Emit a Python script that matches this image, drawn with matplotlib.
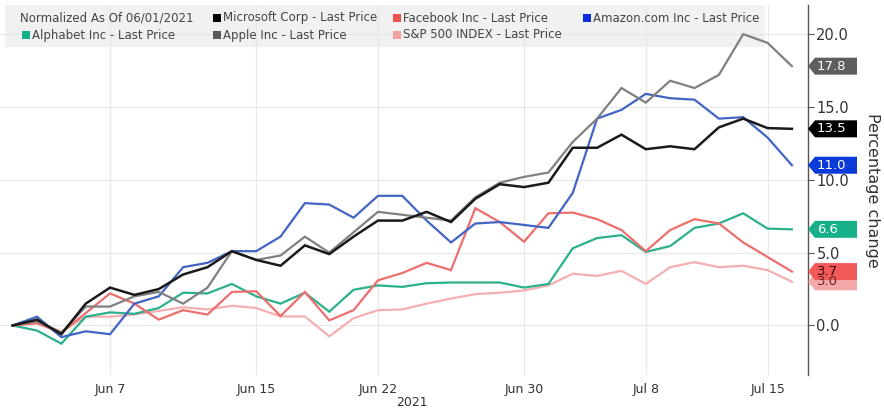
import matplotlib
matplotlib.use("Agg")
import matplotlib.pyplot as plt
from matplotlib.patches import Rectangle, Polygon

# ---- data ----
dates = ["2021-06-01", "2021-06-02", "2021-06-03", "2021-06-04", "2021-06-07", "2021-06-08",
         "2021-06-09", "2021-06-10", "2021-06-11", "2021-06-14", "2021-06-15", "2021-06-16",
         "2021-06-17", "2021-06-18", "2021-06-21", "2021-06-22", "2021-06-23", "2021-06-24",
         "2021-06-25", "2021-06-28", "2021-06-29", "2021-06-30", "2021-07-01", "2021-07-02",
         "2021-07-06", "2021-07-07", "2021-07-08", "2021-07-09", "2021-07-12", "2021-07-13",
         "2021-07-14", "2021-07-15", "2021-07-16"]

msft = [0, 0.4, -0.6, 1.5, 2.6, 2.1, 2.5, 3.5, 4.0, 5.1, 4.5, 4.1, 5.5, 4.9, 6.1, 7.2, 7.2,
        7.8, 7.1, 8.7, 9.7, 9.5, 9.8, 12.2, 12.2, 13.1, 12.1, 12.3, 12.1, 13.6, 14.2, 13.55, 13.5]
fb = [0, 0.15, -0.5, 0.85, 2.2, 1.5, 0.4, 1.05, 0.75, 2.3, 2.35, 0.65, 2.3, 0.35, 1.05, 3.1, 3.6,
      4.3, 3.8, 8.05, 7.1, 5.75, 7.7, 7.75, 7.3, 6.55, 5.1, 6.55, 7.3, 7.0, 5.7, 4.7, 3.7]
amzn = [0, 0.6, -0.8, -0.4, -0.6, 1.5, 2.0, 4.0, 4.3, 5.1, 5.1, 6.1, 8.4, 8.3, 7.4, 8.9, 8.9,
        7.2, 5.7, 7.0, 7.1, 6.9, 6.7, 9.1, 14.2, 14.8, 15.9, 15.6, 15.5, 14.2, 14.3, 12.9, 11.0]
googl = [0, -0.35, -1.25, 0.6, 0.9, 0.8, 1.2, 2.25, 2.2, 2.85, 2.0, 1.5, 2.25, 0.95, 2.45, 2.75,
         2.65, 2.9, 2.95, 2.95, 2.95, 2.6, 2.85, 5.3, 6.0, 6.2, 5.05, 5.45, 6.7, 7.0, 7.7, 6.65, 6.6]
aapl = [0, 0.3, -0.5, 1.3, 1.3, 2.0, 2.3, 1.5, 2.6, 5.1, 4.5, 4.8, 6.1, 5.0, 6.4, 7.8, 7.6,
        7.4, 7.2, 8.8, 9.8, 10.2, 10.5, 12.6, 14.2, 16.3, 15.3, 16.8, 16.3, 17.2, 20.0, 19.4, 17.8]
spx = [0, 0.2, -0.4, 0.6, 0.6, 0.75, 1.0, 1.25, 1.1, 1.35, 1.2, 0.62, 0.62, -0.75, 0.5, 1.05,
       1.1, 1.5, 1.85, 2.15, 2.25, 2.4, 2.75, 3.55, 3.4, 3.75, 2.85, 4.0, 4.35, 4.0, 4.1, 3.8, 3.0]

tick_dates = ["2021-06-07", "2021-06-15", "2021-06-22", "2021-06-30", "2021-07-08", "2021-07-15"]
tick_labels = ["Jun 7", "Jun 15", "Jun 22", "Jun 30", "Jul 8", "Jul 15"]
y_ticks = [0, 5, 10, 15, 20]

legend_title = "Normalized As Of 06/01/2021"
names = ["Microsoft Corp - Last Price", "Facebook Inc - Last Price", "Amazon.com Inc - Last Price",
         "Alphabet Inc - Last Price", "Apple Inc - Last Price", "S&P 500 INDEX - Last Price"]
series = [msft, fb, amzn, googl, aapl, spx]
line_colors = ["#1a1a1a", "#ee6e6e", "#4264c4", "#2bb08c", "#808080", "#f4b0b0"]
mark_colors = ["#000000", "#f05050", "#0a2de0", "#12b088", "#5a5a5a", "#f2a0a0"]
tag_colors = ["#000000", "#f25a5a", "#0a3ad8", "#18b088", "#5e5e5e", "#f4a8a8"]
tag_text = ["white", "#3a0000", "white", "white", "white", "#6a2020"]

W, H = 884, 409
fig = plt.figure(figsize=(W / 100, H / 100), dpi=100)
fig.patch.set_facecolor("white")
ax = fig.add_axes([0, (H - 375) / H, 808 / W, 370 / H])

x = list(range(len(dates)))
ax.set_xlim(-0.52, 32.66)
ax.set_ylim(-3.4, 22.0)

# legend band
ax.add_patch(Rectangle((5 / 808, 1 - 42 / 370), 760 / 808, 42 / 370, transform=ax.transAxes,
                       facecolor="#f1f1f1", edgecolor="none", zorder=0.5))

# grid
ax.set_yticks(y_ticks)
ax.set_yticklabels([f"{v:.1f}" for v in y_ticks])
tpos = [dates.index(d) for d in tick_dates]
ax.set_xticks(tpos)
ax.set_xticklabels(tick_labels)
ax.grid(True, color="#e8e8e8", linewidth=0.9, zorder=1)
ax.set_axisbelow(True)

draw_order = [5, 3, 1, 2, 4, 0]
for i in draw_order:
    lw = 1.8 if i == 0 else 1.6
    ax.plot(x, series[i], color=line_colors[i], linewidth=lw, zorder=3, solid_joinstyle="miter")

for s in ["left", "top", "bottom"]:
    ax.spines[s].set_visible(False)
ax.spines["right"].set_color("#555555")
ax.spines["right"].set_linewidth(1.0)
ax.yaxis.tick_right()
ax.yaxis.set_label_position("right")
ax.tick_params(axis="y", direction="out", length=4, color="#555555", labelsize=10.5,
               labelcolor="#333333", pad=2)
ax.tick_params(axis="x", length=0, labelsize=9, labelcolor="#333333", pad=6)
ax.set_ylabel("Percentage change", rotation=270, fontsize=11.5, color="#333333", labelpad=22)

fig.text(412 / W, 1 - 403 / H, "2021", ha="center", va="center", fontsize=9, color="#333333")

# legend entries
def fx(px):
    return px / W

def fy(py):
    return 1 - py / H

fig.text(fx(20), fy(18), legend_title, ha="left", va="center", fontsize=8.5, color="#444444")
leg_pos = [(213, 18), (393, 18), (583, 18), (22, 35), (213, 35), (393, 35)]
for (px, py), name, c in zip(leg_pos, names, mark_colors):
    fig.patches.append(Rectangle((fx(px), fy(py + 4)), 8 / W, 8 / H, transform=fig.transFigure,
                                 facecolor=c, edgecolor="none", figure=fig))
    fig.text(fx(px + 10), fy(py), name, ha="left", va="center", fontsize=8.5, color="#444444")

# value tags on right axis
tag_order = [4, 0, 2, 3, 5, 1]
for i in tag_order:
    v = series[i][-1]
    yd = ax.transData.transform((0, v))[1]
    yc = H - yd
    hh = 8.5
    pts = [(808, yc), (815, yc - hh), (857, yc - hh), (857, yc + hh), (815, yc + hh)]
    poly = Polygon([(fx(a), fy(b)) for a, b in pts], closed=True, transform=fig.transFigure,
                   facecolor=tag_colors[i], edgecolor="none", figure=fig, zorder=5)
    fig.patches.append(poly)
    fig.text(fx(817), fy(yc), f"{v:.1f}", ha="left", va="center", fontsize=9.5,
             color=tag_text[i], zorder=6)

fig.savefig("out.png", dpi=100)
